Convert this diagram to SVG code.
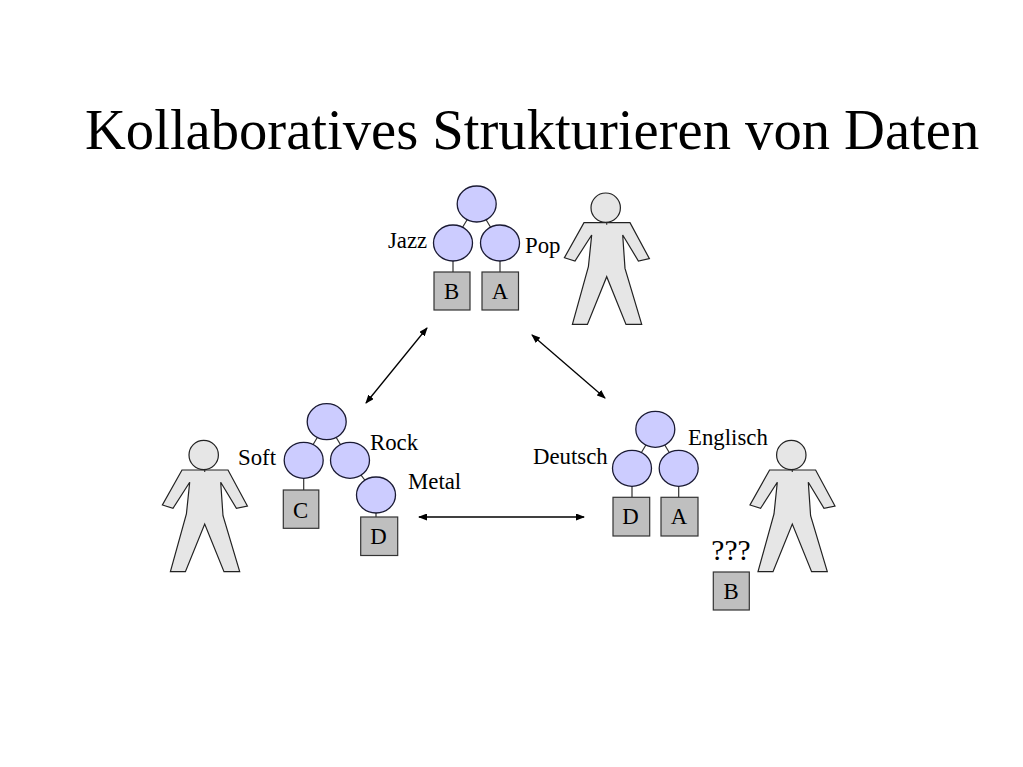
<svg xmlns="http://www.w3.org/2000/svg" xmlns:xlink="http://www.w3.org/1999/xlink" width="1023" height="767" viewBox="0 0 1023 767">
<style>
text{font-family:"Liberation Serif","Times New Roman",serif;fill:#000}
.t{font-size:56.600px}
.l{font-size:22.800px}
.c{font-size:22.800px;text-anchor:middle}
.n{fill:#ccccff;stroke:#1a1a33;stroke-width:1.3}
.b{fill:#bfbfbf;stroke:#333;stroke-width:1.2}
.e{stroke:#333;stroke-width:1.2;fill:none}
.p{fill:#e6e6e6;stroke:#222;stroke-width:1.2}
.a{stroke:#000;stroke-width:1.3;fill:none;marker-start:url(#h);marker-end:url(#h)}
</style>
<defs>
<marker id="h" markerWidth="9" markerHeight="7" refX="8" refY="3.5" orient="auto-start-reverse" markerUnits="userSpaceOnUse"><path d="M0 0L9 3.5L0 7z" fill="#000"/></marker>
<g id="person">
<path class="p" d="M-21.700 15L24.300 15L43.700 51L32.700 53.300L17 27.300L19.300 60.700L36 116.700L20.300 116.700L1 69L-18.300 116.700L-33.300 116.700L-17.300 59L-14 27.300L-30.700 53.300L-41.300 50Z"/>
<circle class="p" cx="0" cy="0" r="14.700"/>
<path class="e" d="M1 15V17"/>
</g>
</defs>
<text id="title" class="t" x="85" y="149">Kollaboratives Strukturieren von Daten</text>
<g id="connectors">
<path class="a" d="M427 328L366 403"/>
<path class="a" d="M532 335L605 398"/>
<path class="a" d="M419 517L584 517"/>
</g>
<g id="tree-top">
<path class="e" d="M476.700 204L453 243M476.700 204L500 243M453 243V272M500 243V272"/>
<ellipse class="n" cx="476.700" cy="204" rx="19.500" ry="18"/>
<ellipse class="n" cx="453" cy="243" rx="19.500" ry="18"/>
<ellipse class="n" cx="500" cy="243" rx="19.500" ry="18"/>
<rect class="b" x="434" y="272" width="36" height="38"/>
<rect class="b" x="482" y="272" width="36.500" height="38"/>
<text class="c" x="451.500" y="299">B</text>
<text class="c" x="500" y="299">A</text>
<text class="l" x="388" y="248">Jazz</text>
<text class="l" x="525" y="253">Pop</text>
</g>
<use id="person-top" xlink:href="#person" href="#person" x="605.700" y="207.700"/>
<g id="tree-left">
<path class="e" d="M326.700 421.700L303.700 460.300M326.700 421.700L350 460.300L376 495M303.700 460.300V490M376 495V517"/>
<ellipse class="n" cx="326.700" cy="421.700" rx="19.500" ry="18"/>
<ellipse class="n" cx="303.700" cy="460.300" rx="19.500" ry="18"/>
<ellipse class="n" cx="350" cy="460.300" rx="19.500" ry="18"/>
<ellipse class="n" cx="376" cy="495" rx="19.500" ry="18"/>
<rect class="b" x="283.300" y="490" width="35.500" height="38.300"/>
<rect class="b" x="360.700" y="517" width="37" height="38.500"/>
<text class="c" x="300.500" y="518">C</text>
<text class="c" x="378.500" y="544">D</text>
<text class="l" x="238" y="465">Soft</text>
<text class="l" x="370" y="450">Rock</text>
<text class="l" x="408" y="489">Metal</text>
</g>
<use id="person-left" xlink:href="#person" href="#person" x="203.700" y="455"/>
<g id="tree-right">
<path class="e" d="M655.300 429.300L632 468.300M655.300 429.300L678.700 468.300M632 468.300V497.300M678.700 468.300V497.300"/>
<ellipse class="n" cx="655.300" cy="429.300" rx="19.500" ry="18"/>
<ellipse class="n" cx="632" cy="468.300" rx="19.500" ry="18"/>
<ellipse class="n" cx="678.700" cy="468.300" rx="19.500" ry="18"/>
<rect class="b" x="613" y="497.300" width="36.700" height="38.700"/>
<rect class="b" x="661" y="497.300" width="37" height="38.700"/>
<text class="c" x="630.500" y="524">D</text>
<text class="c" x="679" y="524">A</text>
<text class="l" x="533" y="464">Deutsch</text>
<text class="l" x="688" y="445">Englisch</text>
<text class="c" x="731" y="560" style="font-size:29.500px">???</text>
<rect class="b" x="713.300" y="572" width="36" height="38"/>
<text class="c" x="731" y="599">B</text>
</g>
<use id="person-right" xlink:href="#person" href="#person" x="791.300" y="455"/>
</svg>
